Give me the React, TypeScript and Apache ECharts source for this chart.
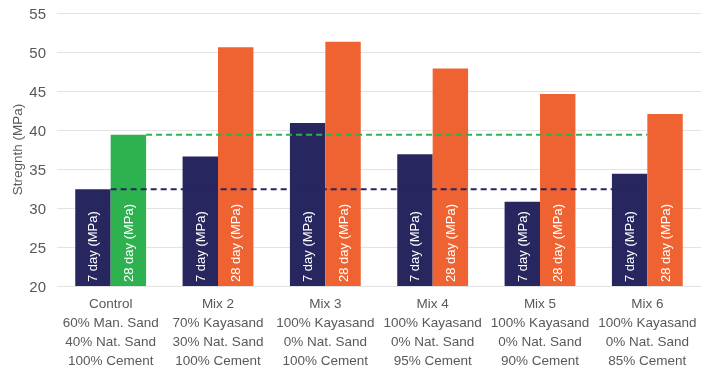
import React, { useEffect, useRef } from "react";
import * as echarts from "echarts";

const mixNames = ["Control", "Mix 2", "Mix 3", "Mix 4", "Mix 5", "Mix 6"];
const sandA = ["60% Man. Sand", "70% Kayasand", "100% Kayasand", "100% Kayasand", "100% Kayasand", "100% Kayasand"];
const sandB = ["40% Nat. Sand", "30% Nat. Sand", "0% Nat. Sand", "0% Nat. Sand", "0% Nat. Sand", "0% Nat. Sand"];
const cement = ["100% Cement", "100% Cement", "100% Cement", "95% Cement", "90% Cement", "85% Cement"];

const day7 = [32.4, 36.6, 40.9, 36.9, 30.8, 34.4];
const day28 = [39.4, 50.6, 51.3, 47.9, 44.6, 42.05];

const yTicks = { min: 20, max: 55, interval: 5 };

// reference line extents on a hidden 0..6 value axis (category i spans i..i+1)
const navyLineX = [0.5, 5.5];
const greenLineX = [0.83, 5.5];

const NAVY = "#27265F";
const ORANGE = "#EF6232";
const GREEN = "#2DB24F";
const FONT = "Liberation Sans, Arial, sans-serif";

export default function App() {
  const ref = useRef<HTMLDivElement>(null);
  useEffect(() => {
    const chart = echarts.init(ref.current!, undefined, { renderer: "svg" });
    const categories = mixNames.map((n, i) => [n, sandA[i], sandB[i], cement[i]].join("\n"));
    chart.setOption({
      animation: false,
      textStyle: { fontFamily: FONT },
      grid: { left: 57, right: 0, top: 13, bottom: 89, containLabel: false, outerBoundsMode: "none" },
      xAxis: [
        {
          type: "category",
          data: categories,
          axisLine: { show: false },
          axisTick: { show: false },
          axisLabel: { color: "#595959", fontSize: 13.5, lineHeight: 19, margin: 8, fontFamily: FONT, interval: 0 },
        },
        { type: "value", min: 0, max: 6, show: false },
      ],
      yAxis: {
        type: "value",
        min: yTicks.min,
        max: yTicks.max,
        interval: yTicks.interval,
        name: "Stregnth (MPa)",
        nameLocation: "middle",
        nameGap: 33,
        nameMoveOverlap: false,
        nameTextStyle: { color: "#595959", fontSize: 13.5, fontFamily: FONT },
        axisLabel: { color: "#595959", fontSize: 15, margin: 11, fontFamily: FONT },
        splitLine: { lineStyle: { color: "#e3e3e3", width: 1 } },
        axisLine: { show: false },
        axisTick: { show: false },
      },
      series: [
        {
          name: "7 day (MPa)",
          type: "bar",
          data: day7,
          barGap: "0%",
          barCategoryGap: "34%",
          itemStyle: { color: NAVY },
          label: {
            show: true,
            position: "insideBottom",
            rotate: 90,
            align: "left",
            verticalAlign: "middle",
            distance: 4,
            color: "#ffffff",
            fontSize: 13,
            fontFamily: FONT,
            formatter: "{a}",
          },
        },
        {
          name: "28 day (MPa)",
          type: "bar",
          data: day28.map((v, i) => ({ value: v, itemStyle: { color: i === 0 ? GREEN : ORANGE } })),
          label: {
            show: true,
            position: "insideBottom",
            rotate: 90,
            align: "left",
            verticalAlign: "middle",
            distance: 4,
            color: "#ffffff",
            fontSize: 13,
            fontFamily: FONT,
            formatter: "{a}",
          },
        },
        {
          type: "line",
          xAxisIndex: 1,
          data: navyLineX.map((x) => [x, day7[0]]),
          symbol: "none",
          z: 5,
          lineStyle: { color: NAVY, width: 2, type: [6, 4] },
        },
        {
          type: "line",
          xAxisIndex: 1,
          data: greenLineX.map((x) => [x, day28[0]]),
          symbol: "none",
          z: 5,
          lineStyle: { color: GREEN, width: 2, type: [6, 4] },
        },
      ],
    });
    return () => chart.dispose();
  }, []);
  return <div ref={ref} style={{ position: "fixed", left: 0, top: 0, width: 701, height: 375 }} />;
}
